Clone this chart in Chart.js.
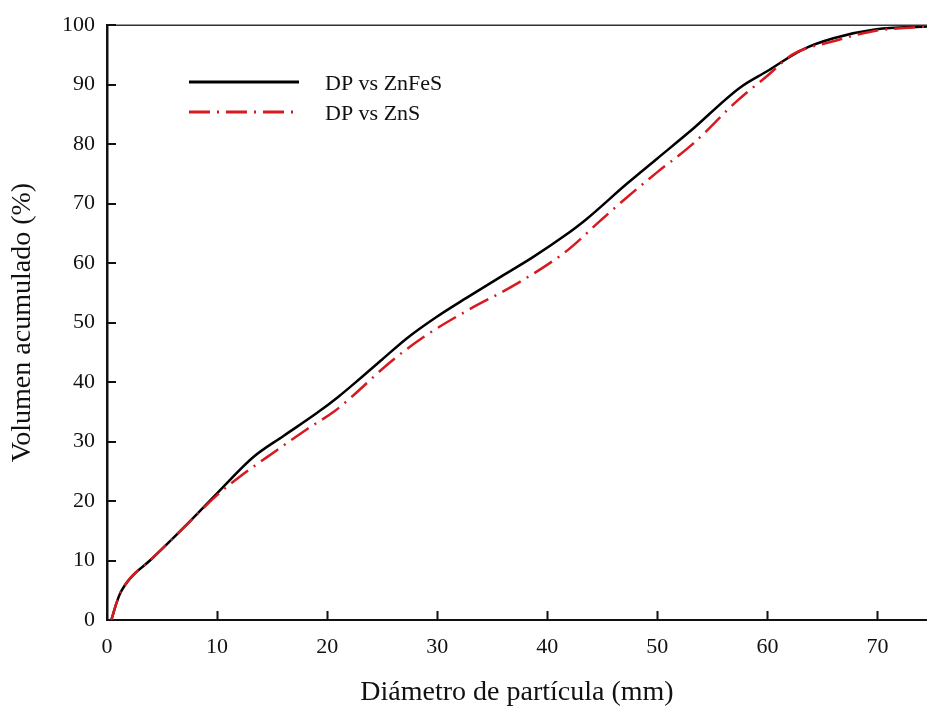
<!DOCTYPE html>
<html>
<head>
<meta charset="utf-8">
<script src="https://cdn.jsdelivr.net/npm/chart.js@4/dist/chart.umd.min.js"></script>
<style>
  html, body { margin: 0; padding: 0; background: #fff; }
  #wrap { width: 927px; height: 709px; position: relative; }
</style>
</head>
<body>
<div id="wrap"><canvas id="c" width="927" height="709"></canvas></div>
<script>
// ---- data ----
const seriesNames = ['DP vs ZnFeS', 'DP vs ZnS'];
const znfesX = [0.4, 0.8, 1.2, 2.1, 3.9, 6.9, 10, 13.3, 16, 19, 21, 23, 25, 27.2, 29.9, 32.7, 35.5, 38.7, 41.5, 43.5, 47.2, 50, 53, 57.5, 60, 63.2, 66, 69.9, 74.5];
const znfesY = [0, 2.5, 4.5, 7, 10, 15.4, 21.3, 27.4, 30.9, 34.7, 37.5, 40.6, 43.8, 47.3, 50.9, 54.2, 57.4, 61, 64.5, 67.3, 73.3, 77.6, 82.2, 89.5, 92.3, 95.9, 97.8, 99.3, 99.8];
const znsX = [0.4, 0.8, 1.2, 2.1, 3.9, 6.9, 10, 12, 15.4, 18.1, 20.6, 22.1, 25.7, 28.7, 32.7, 37.2, 41.8, 44.8, 47.2, 50, 53.2, 57.2, 60, 62.3, 66, 69.6, 74.5];
const znsY = [0, 2.5, 4.5, 7, 10, 15.4, 21, 24, 28.5, 32, 35, 37.3, 43.3, 47.5, 52, 56.5, 62.1, 67.1, 71, 75.3, 80, 87.2, 91.5, 95.1, 97.3, 99, 99.8];
const xTicks = [0, 10, 20, 30, 40, 50, 60, 70];
const yTicks = [0, 10, 20, 30, 40, 50, 60, 70, 80, 90, 100];
const xTitle = 'Diámetro de partícula (mm)';
const yTitle = 'Volumen acumulado (%)';

const toPts = (xs, ys) => xs.map((x, i) => ({ x: x, y: ys[i] }));
const FONT = "'Liberation Serif', 'DejaVu Serif', serif";
const RED = '#d71a20';

const frameAndTicks = {
  id: 'frameAndTicks',
  afterDraw(chart) {
    const { ctx, chartArea: a, scales } = chart;
    ctx.save();
    // top frame line
    ctx.strokeStyle = '#333';
    ctx.lineWidth = 1.5;
    ctx.beginPath();
    ctx.moveTo(a.left, a.top);
    ctx.lineTo(a.right, a.top);
    ctx.stroke();
    // inward ticks
    ctx.strokeStyle = '#111';
    ctx.lineWidth = 2;
    ctx.beginPath();
    scales.x.ticks.forEach(t => {
      if (t.value === 0) return;
      const px = Math.round(scales.x.getPixelForValue(t.value)) + 0.5;
      ctx.moveTo(px, a.bottom);
      ctx.lineTo(px, a.bottom - 9);
    });
    scales.y.ticks.forEach(t => {
      if (t.value === 0) return;
      const py = Math.round(scales.y.getPixelForValue(t.value));
      ctx.moveTo(a.left, py);
      ctx.lineTo(a.left + 9, py);
    });
    ctx.stroke();
    // legend
    const rows = [{ y: 82 }, { y: 112 }];
    chart.data.datasets.forEach((ds, i) => {
      const y = rows[i].y;
      ctx.strokeStyle = ds.borderColor;
      ctx.lineWidth = 3;
      ctx.setLineDash(ds.borderDash || []);
      ctx.beginPath();
      ctx.moveTo(189, y);
      ctx.lineTo(i === 0 ? 299 : 293, y);
      ctx.stroke();
      ctx.setLineDash([]);
      ctx.fillStyle = '#111';
      ctx.font = '22px ' + FONT;
      ctx.textBaseline = 'alphabetic';
      ctx.textAlign = 'left';
      ctx.fillText(ds.label, 325, y + 8);
    });
    ctx.restore();
  }
};

new Chart(document.getElementById('c'), {
  type: 'line',
  data: {
    datasets: [
      {
        label: seriesNames[0],
        data: toPts(znfesX, znfesY),
        borderColor: '#000',
        borderWidth: 2.5,
        pointRadius: 0,
        cubicInterpolationMode: 'monotone',
        fill: false,
        order: 1
      },
      {
        label: seriesNames[1],
        data: toPts(znsX, znsY),
        borderColor: RED,
        borderWidth: 2.5,
        borderDash: [21, 7, 2, 7],
        pointRadius: 0,
        cubicInterpolationMode: 'monotone',
        fill: false,
        order: 0
      }
    ]
  },
  options: {
    responsive: false,
    animation: false,
    devicePixelRatio: 1,
    layout: { padding: { top: 24, right: 0, left: 0, bottom: 0 } },
    plugins: { legend: { display: false }, tooltip: { enabled: false } },
    scales: {
      x: {
        type: 'linear',
        min: 0,
        max: 74.5,
        afterBuildTicks: s => { s.ticks = xTicks.map(v => ({ value: v })); },
        afterFit: s => { s.height = 89; },
        grid: { display: true, drawOnChartArea: false, drawTicks: false, tickLength: 0 },
        border: { display: true, color: '#111', width: 2 },
        ticks: { color: '#111', font: { family: FONT, size: 22 }, padding: 14, maxRotation: 0 },
        title: { display: true, text: xTitle, color: '#111', font: { family: FONT, size: 28 }, padding: { top: 0, bottom: 0 } }
      },
      y: {
        type: 'linear',
        min: 0,
        max: 100,
        afterBuildTicks: s => { s.ticks = yTicks.map(v => ({ value: v })); },
        afterFit: s => { s.width = 107; },
        grid: { display: true, drawOnChartArea: false, drawTicks: false, tickLength: 0 },
        border: { display: true, color: '#111', width: 2.5 },
        ticks: { color: '#111', font: { family: FONT, size: 22 }, padding: 12 },
        title: { display: true, text: yTitle, color: '#111', font: { family: FONT, size: 28 }, padding: { top: 6, bottom: 0 } }
      }
    }
  },
  plugins: [frameAndTicks]
});
</script>
</body>
</html>
